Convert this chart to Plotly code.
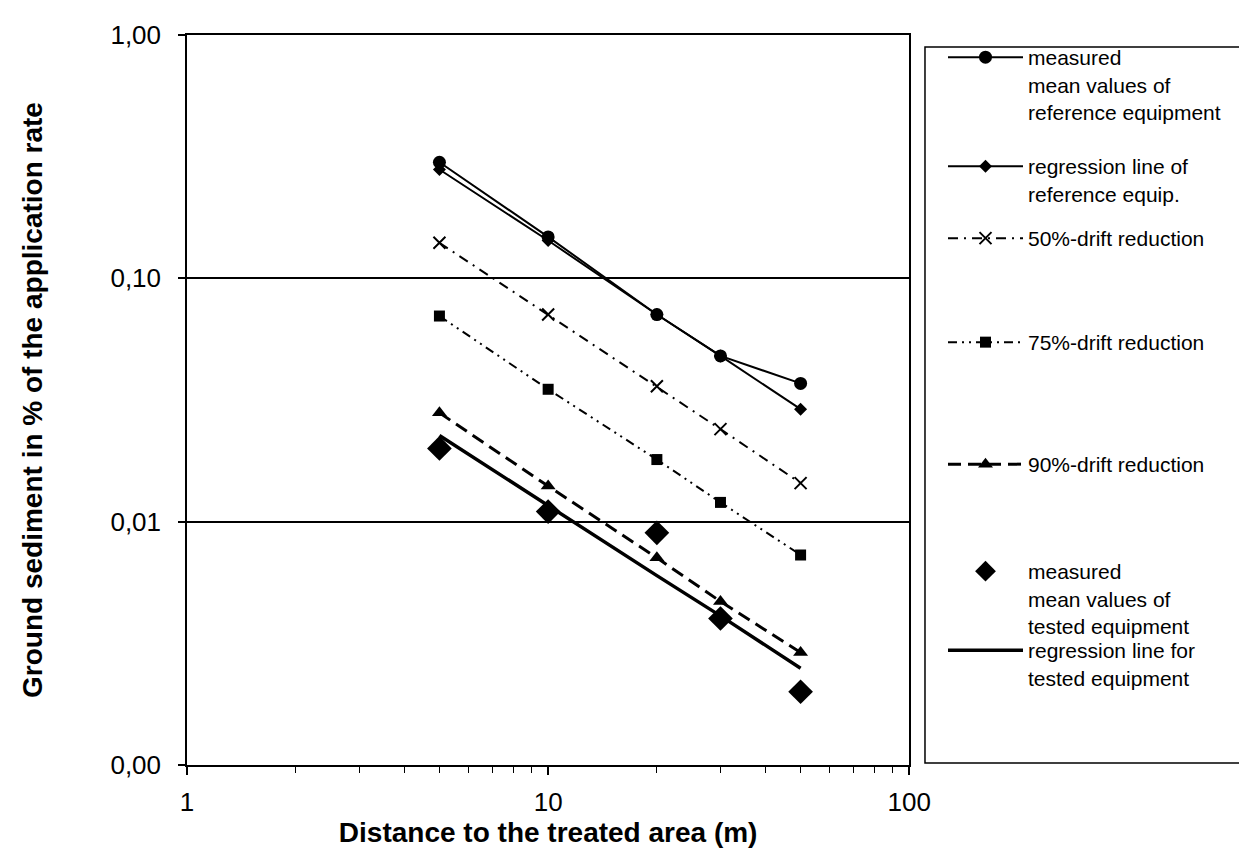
import plotly.graph_objects as go

# ---------------- data ----------------
distance_m = [5, 10, 20, 30, 50]
ref_measured = [0.30, 0.148, 0.071, 0.048, 0.037]
ref_regression = [0.28, 0.143, 0.071, 0.048, 0.029]
drift_50 = [0.14, 0.071, 0.036, 0.024, 0.0144]
drift_75 = [0.070, 0.035, 0.018, 0.012, 0.0073]
drift_90 = [0.028, 0.014, 0.0071, 0.0047, 0.0029]
tested_measured = [0.020, 0.011, 0.009, 0.004, 0.002]
tested_regression = [0.0226, 0.0116, 0.0060, 0.0041, 0.0025]

series_names = [
    "measured<br>mean values of<br>reference equipment",
    "regression line of<br>reference equip.",
    "50%-drift reduction",
    "75%-drift reduction",
    "90%-drift reduction",
    "measured<br>mean values of<br>tested equipment",
    "regression line for<br>tested equipment",
]

x_tickvals = [1, 10, 100]
x_ticktext = ["1", "10", "100"]
x_minor_ticks = [2, 3, 4, 5, 6, 7, 8, 9, 20, 30, 40, 50, 60, 70, 80, 90]
y_tickvals = [1, 0.1, 0.01, 0.001]
y_ticktext = ["1,00", "0,10", "0,01", "0,00"]

x_title = "Distance to the treated area (m)"
y_title = "Ground sediment in % of the application rate"

# ---------------- figure ----------------
FONT = "Liberation Sans, Arial, sans-serif"
W, H = 1247, 849
L, R, T, B = 179, 331, 25, 92

fig = go.Figure()

styles = [
    dict(mode="lines+markers", line=dict(color="black", width=2),
         marker=dict(symbol="circle", size=13, color="black")),
    dict(mode="lines+markers", line=dict(color="black", width=2),
         marker=dict(symbol="diamond", size=10, color="black")),
    dict(mode="lines+markers", line=dict(color="black", width=2, dash="10px,6px,2px,6px"),
         marker=dict(symbol="x-thin-open", size=12, color="black", line=dict(color="black", width=2))),
    dict(mode="lines+markers", line=dict(color="black", width=2, dash="9px,5px,2px,5px,2px,5px"),
         marker=dict(symbol="square", size=11, color="black")),
    dict(mode="lines+markers", line=dict(color="black", width=3, dash="13px,7px"),
         marker=dict(symbol="triangle-up", size=13, color="black")),
    dict(mode="markers",
         marker=dict(symbol="diamond", size=19, color="black")),
    dict(mode="lines", line=dict(color="black", width=3.5)),
]
series_values = [ref_measured, ref_regression, drift_50, drift_75, drift_90,
                 tested_measured, tested_regression]

legend_centers_px = [45, 154, 226, 330, 452, 559, 638]
legend_left_px = 935

for i, (name, vals, st) in enumerate(zip(series_names, series_values, styles)):
    lg = "legend" if i == 0 else f"legend{i + 1}"
    fig.add_trace(go.Scatter(x=distance_m, y=vals, name=name, legend=lg,
                             showlegend=True, **st))

legend_common = dict(
    xref="container", yref="container", xanchor="left", yanchor="top",
    bgcolor="rgba(0,0,0,0)", borderwidth=0, itemwidth=75, valign="top",
    font=dict(family=FONT, size=21, color="black"), tracegroupgap=0,
)
legends = {}
for i, c in enumerate(legend_centers_px):
    key = "legend" if i == 0 else f"legend{i + 1}"
    legends[key] = dict(legend_common, x=legend_left_px / W, y=1 - (c - 16) / H)

fig.update_layout(
    width=W, height=H,
    margin=dict(l=L, r=R, t=T, b=B, pad=0),
    paper_bgcolor="white", plot_bgcolor="white",
    font=dict(family=FONT, color="black"),
    showlegend=True,
    **legends,
)

fig.update_xaxes(
    type="log", range=[0, 2],
    tickmode="array", tickvals=x_tickvals, ticktext=x_ticktext,
    ticks="outside", ticklen=8, tickwidth=1.5, tickcolor="black",
    ticklabelstandoff=5,
    minor=dict(tickvals=x_minor_ticks, ticks="outside", ticklen=6,
               tickwidth=1.2, tickcolor="black", showgrid=False),
    showgrid=False, zeroline=False,
    showline=True, linecolor="black", linewidth=1.5, mirror=True,
    tickfont=dict(family=FONT, size=26, color="black"),
    title=dict(text=f"<b>{x_title}</b>", font=dict(family=FONT, size=28, color="black"),
               standoff=2),
)
fig.update_yaxes(
    type="log", range=[-3, 0],
    tickmode="array", tickvals=y_tickvals, ticktext=y_ticktext,
    ticks="outside", ticklen=7, tickwidth=1.5, tickcolor="black",
    ticklabelstandoff=12,
    showgrid=True, gridcolor="black", gridwidth=1.5,
    zeroline=False,
    showline=True, linecolor="black", linewidth=1.5, mirror=True,
    tickfont=dict(family=FONT, size=26, color="black"),
    title=dict(text=f"<b>{y_title}</b>", font=dict(family=FONT, size=28, color="black"),
               standoff=60),
)

# legend frame
pw, ph = W - L - R, H - T - B
fig.add_shape(type="rect", xref="paper", yref="paper",
              x0=(932 - L) / pw, x1=(1265 - L) / pw,
              y0=(H - B - 755) / ph, y1=(H - B - 37) / ph,
              line=dict(color="black", width=1.5), fillcolor="rgba(0,0,0,0)", layer="below")

fig.write_html("out.html")
